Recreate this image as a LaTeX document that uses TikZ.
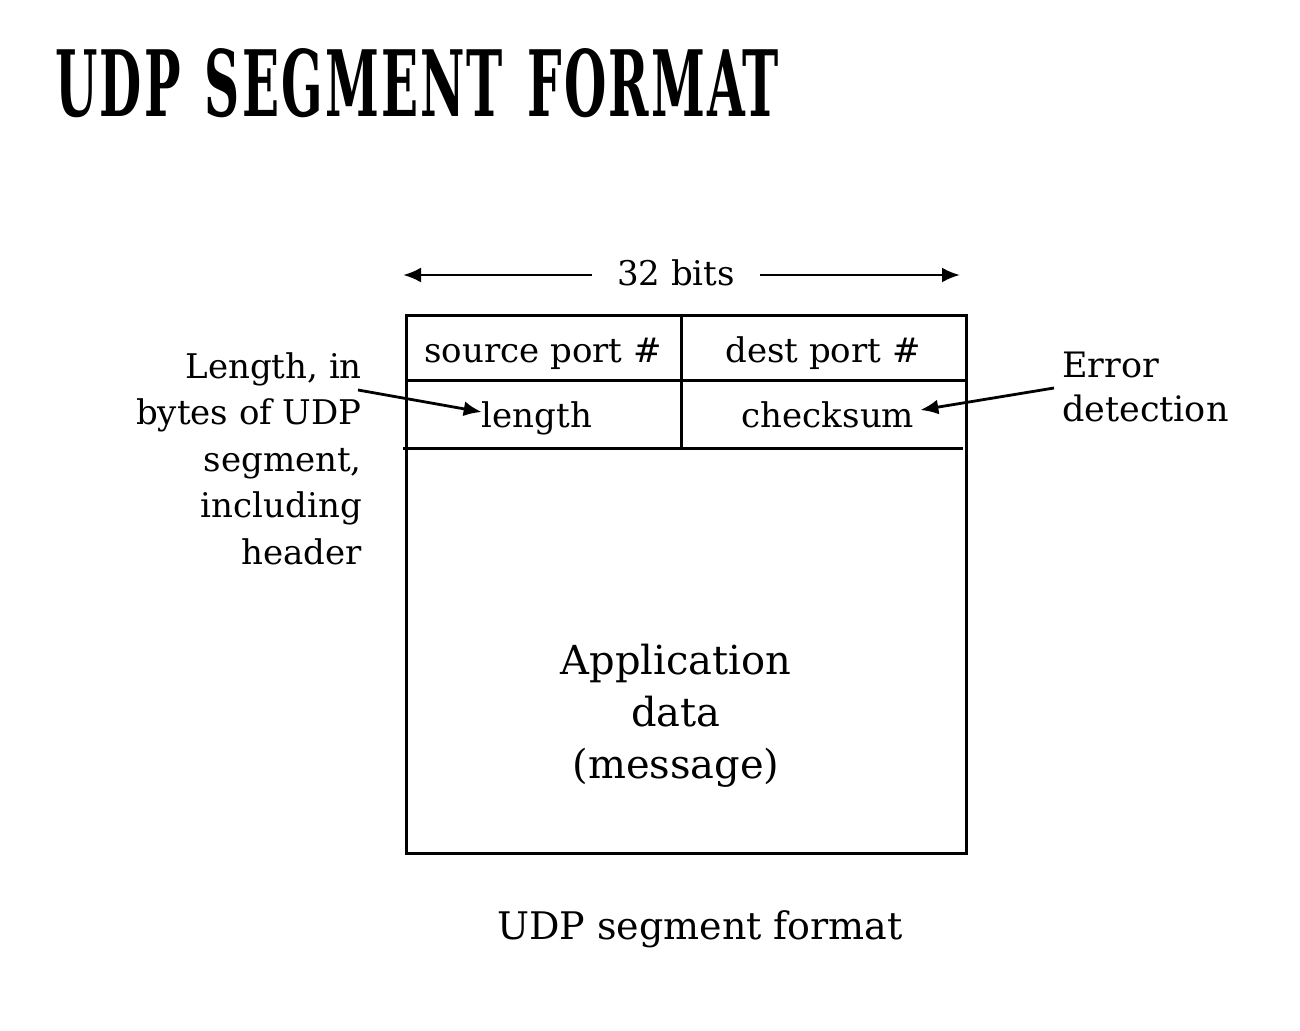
\documentclass[tikz,border=0pt]{standalone}
\usepackage{fontspec}
\setmainfont{DejaVu Serif}
\newfontfamily\titlefont[LetterSpace=4]{DejaVu Serif Condensed}
\usetikzlibrary{arrows.meta}
\tikzset{
  lbl/.style={inner sep=0pt, font=\fontsize{34}{46}\selectfont},
  big/.style={inner sep=0pt, font=\fontsize{40}{52}\selectfont, align=center},
  frame/.style={line width=3pt},
  pointer/.style={line width=2.8pt, -{Latex[length=18pt,width=15pt]}},
}
\begin{document}
\begin{tikzpicture}[x=1pt,y=-1pt]
\useasboundingbox (0,0) rectangle (1300,1030);
% title
\node[inner sep=0pt, anchor=south west] (title) at (55,118)
  {\resizebox{723pt}{68pt}{\titlefont\bfseries UDP\hspace{0.45em}SEGMENT\hspace{0.45em}FORMA\hspace{-0.05em}T}};
% 32 bits
\node[lbl, anchor=base] (bits) at (676,285) {32 bits};
\coordinate (bl) at (403,275);
\coordinate (br) at (960,275);
\draw[pointer] (592,275) -- (bl);
\draw[pointer] (760,275) -- (br);
% box
\node[frame, draw, minimum width=560pt, minimum height=538pt, inner sep=0pt, anchor=north west] (seg) at (405,314) {};
\draw[frame] (405,380) -- (965,380);
\draw[frame] (403,448) -- (963,448);
\draw[frame] (681,314) -- (681,448);
% fields
\node[lbl, anchor=base] (src) at (543,362) {source port \#};
\node[lbl, anchor=base] (dst) at (823,362) {dest port \#};
\node[lbl, anchor=base] (len) at (537,427) {length};
\node[lbl, anchor=base] (chk) at (828,427) {checksum};
\node[big, anchor=north] (app) at (676,644) {Application\\data\\(message)};
% side labels
\node[lbl, anchor=north east, align=right, font=\fontsize{34}{46.5}\selectfont] (lenlbl) at (362,352)
  {Length, in\\bytes of UDP\\segment,\\including\\header};
\node[lbl, anchor=north west, align=left, font=\fontsize{35}{44}\selectfont] (errlbl) at (1062,352)
  {Error\\detection};
\coordinate (lstart) at (358,390);
\coordinate (rstart) at (1054,388);
\draw[pointer] (lstart) -- (len.west |- 0,412);
\draw[pointer] (rstart) -- ([xshift=6pt]chk.east |- 0,410);
% caption
\node[big, anchor=base, font=\fontsize{38}{48}\selectfont] (cap) at (700,939) {UDP segment format};
\end{tikzpicture}
\end{document}
